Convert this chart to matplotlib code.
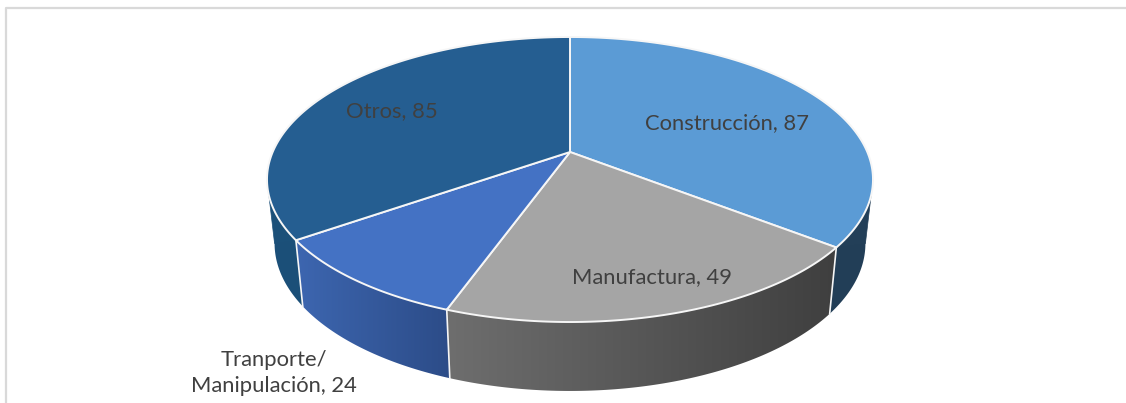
import numpy as np
import matplotlib.pyplot as plt
from matplotlib.colors import LinearSegmentedColormap
from matplotlib.patches import Polygon

# --- Data ---
categories = ["Construcción", "Manufactura", "Tranporte/\nManipulación", "Otros"]
values = [87, 49, 24, 85]

# --- Style ---
top_colors = ["#5B9BD5", "#A5A5A5", "#4472C4", "#255E91"]
side_left = ["#1F3D56", "#6E6E6E", "#3D66B0", "#1B5079"]
side_right = ["#233F58", "#3F3F3F", "#2C4C88", "#1F4E78"]
label_pos = [(727, 123), (652, 277), (274, 373), (392, 111)]
TEXT_COLOR = "#404040"
RIM_COLOR = "#F6F6F6"

# Perspective of the pie, everything in image pixels
CX, CY = 570, 152
A, B, P = 297.3, 137.2, 0.193
SIDE_X, SIDE_Y, SIDE_CY = 0.975, 1.035, 215


def top_xy(theta):
    # theta runs clockwise from twelve o'clock
    w = 1 + P * np.cos(theta)
    return CX + A * np.sin(theta) / w, CY - B * np.cos(theta) / w


def bottom_xy(theta):
    x, y = top_xy(theta)
    return CX + SIDE_X * (x - CX), SIDE_CY + SIDE_Y * (y - CY)


fig = plt.figure(figsize=(11.26, 4.03), dpi=100)
ax = fig.add_axes([0, 0, 1, 1])

# chart frame, cut off by the crop on the right and at the bottom
ax.plot([5.5, 5.5, 1126], [403, 8, 8], color="#D9D9D9", lw=1.6, zorder=0)

edges = np.concatenate([[0], np.cumsum(values)]) / sum(values) * 2 * np.pi

# --- Side wall: a horizontal gradient clipped to each wedge's wall ---
for i in range(len(values)):
    thetas = np.linspace(edges[i], edges[i + 1], 240)
    xt, yt = top_xy(thetas)
    xb, yb = bottom_xy(thetas)
    wall = Polygon(np.c_[np.r_[xt, xb[::-1]], np.r_[yt, yb[::-1]]],
                   closed=True, facecolor="none", edgecolor="none")
    ax.add_patch(wall)
    x_lo, x_hi = min(xt.min(), xb.min()), max(xt.max(), xb.max())
    cmap = LinearSegmentedColormap.from_list("side", [side_left[i], side_right[i]])
    im = ax.imshow(np.linspace(0, 1, 256)[None, :], cmap=cmap, aspect="auto",
                   extent=(x_lo, x_hi, max(yt.max(), yb.max()), min(yt.min(), yb.min())),
                   zorder=1)
    im.set_clip_path(wall)

# the silhouette runs straight from the top rim to the bottom rim at both extremes
tangent_right = np.arccos(-P)
tangent_left = 2 * np.pi - tangent_right
for i in range(len(values)):
    for tangent, anchor, color in [(tangent_right, edges[i + 1], side_right[i]),
                                   (tangent_left, edges[i], side_left[i])]:
        if edges[i] < tangent < edges[i + 1]:
            xs = [top_xy(tangent)[0], bottom_xy(tangent)[0], top_xy(anchor)[0]]
            ys = [top_xy(tangent)[1], bottom_xy(tangent)[1], top_xy(anchor)[1]]
            ax.fill(xs, ys, facecolor=color, edgecolor=color, lw=0.5, zorder=1)

for e in edges[1:-1]:
    x0, y0 = top_xy(e)
    x1, y1 = bottom_xy(e)
    ax.plot([x0, x1], [y0, y1], color=RIM_COLOR, lw=1.2, zorder=2)

# --- Top face ---
for i in range(len(values)):
    thetas = np.linspace(edges[i], edges[i + 1], 240)
    xs, ys = top_xy(thetas)
    ax.fill(np.r_[CX, xs], np.r_[CY, ys], facecolor=top_colors[i],
            edgecolor=RIM_COLOR, lw=1.4, joinstyle="round", zorder=3)

# --- Labels ---
for name, val, pos in zip(categories, values, label_pos):
    ax.text(pos[0], pos[1], f"{name}, {val}", ha="center", va="center",
            family="Lato", fontsize=15.8, color=TEXT_COLOR, zorder=4,
            linespacing=1.35)

ax.set_xlim(0, 1126)
ax.set_ylim(403, 0)
ax.axis("off")

fig.savefig("out.png", dpi=100)
